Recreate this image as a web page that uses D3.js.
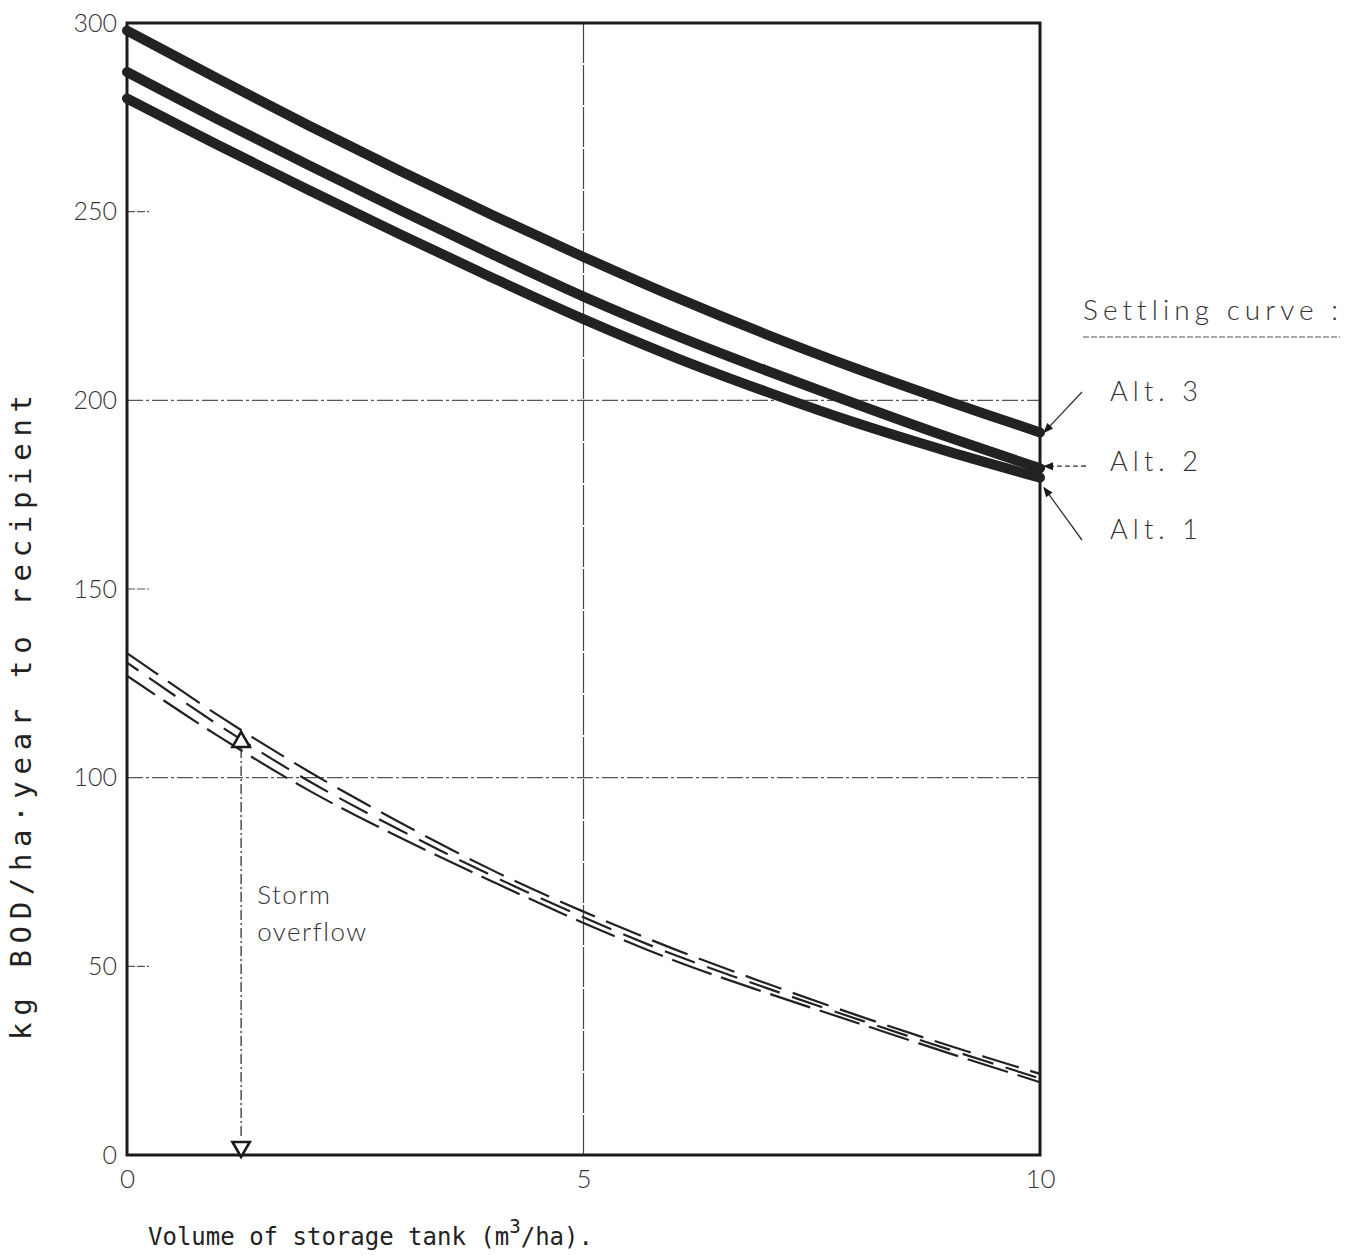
<!DOCTYPE html>
<html>
<head>
<meta charset="utf-8">
<script src="https://cdn.jsdelivr.net/npm/d3@7"></script>
<style>
  body { margin: 0; background: #fff; }
  svg { display: block; }
  text { font-variant-ligatures: none; }
</style>
</head>
<body>
<svg id="chart" width="1354" height="1259"></svg>
<script>
// ---- data ----
const volumes = [0, 1, 2, 3, 4, 5, 6, 7, 8, 9, 10];
const alt3 = [298, 285.2, 272.7, 260.7, 249.1, 238.0, 227.4, 217.5, 208.3, 199.7, 191.5];
const alt2 = [287, 274.4, 262.2, 250.3, 238.7, 227.5, 217.3, 207.9, 198.9, 190.2, 182.0];
const alt1 = [280, 267.6, 255.6, 243.9, 232.5, 221.5, 211.4, 202.3, 193.9, 186.4, 179.5];
const overflowA = [133, 116.5, 101.5, 88, 75.5, 64.5, 54.5, 45.5, 37, 29, 21.5];
const overflowB = [130.5, 114, 99, 86, 74, 63, 53, 44.3, 36, 28, 20.3];
const overflowC = [127, 111, 96.5, 84, 72.5, 61.5, 51.5, 43, 35, 27, 19.3];
const yTicks = [0, 50, 100, 150, 200, 250, 300];
const yGrid = [100, 200];
const yMinor = [50, 150, 250];
const xTicks = [0, 5, 10];
const xGrid = [5];
const legendTitle = "Settling curve :";
const legendLabels = ["Alt. 3", "Alt. 2", "Alt. 1"];
const legendEnds = [191.5, 182, 179.5];
const stormX = 1.25;
const stormTop = 110;
const stormLabel = ["Storm", "overflow"];
const yLabel = "kg BOD/ha\u00B7year to recipient";

// ---- layout ----
const svg = d3.select("#chart");
const x = d3.scaleLinear().domain([0, 10]).range([127, 1040]);
const y = d3.scaleLinear().domain([0, 300]).range([1155, 23]);
const ink = "#1a1a1a";
const tickFont = "Lato, 'Noto Sans', sans-serif";

// gridlines
svg.append("g").selectAll("line").data(yGrid).join("line")
  .attr("x1", x(0)).attr("x2", x(10))
  .attr("y1", d => y(d)).attr("y2", d => y(d))
  .attr("stroke", "#555").attr("stroke-width", 1.2)
  .attr("stroke-dasharray", "16,3,3,3");
svg.append("g").selectAll("line").data(xGrid).join("line")
  .attr("x1", d => x(d)).attr("x2", d => x(d))
  .attr("y1", y(0)).attr("y2", y(300))
  .attr("stroke", "#444").attr("stroke-width", 1.2)
  .attr("stroke-dasharray", "40,2");
svg.append("g").selectAll("line").data(yMinor).join("line")
  .attr("x1", x(0)).attr("x2", x(0) + 22)
  .attr("y1", d => y(d)).attr("y2", d => y(d))
  .attr("stroke", "#555").attr("stroke-width", 1.2)
  .attr("stroke-dasharray", "8,2");

// axes
const yAxis = d3.axisLeft(y).tickValues(yTicks).tickSize(0).tickPadding(10);
const gy = svg.append("g").attr("transform", `translate(${x(0)},0)`).call(yAxis);
gy.select(".domain").remove();
gy.selectAll("text").attr("font-family", tickFont).attr("font-weight", 300)
  .attr("font-size", 25).attr("fill", "#333");

const xAxis = d3.axisBottom(x).tickValues(xTicks).tickSize(0).tickPadding(15)
  .tickFormat(d3.format("d"));
const gx = svg.append("g").attr("transform", `translate(0,${y(0)})`).call(xAxis);
gx.select(".domain").remove();
gx.selectAll("text").attr("font-family", tickFont).attr("font-weight", 300)
  .attr("font-size", 26).attr("fill", "#333");

// frame
svg.append("rect")
  .attr("x", x(0)).attr("y", y(300))
  .attr("width", x(10) - x(0)).attr("height", y(0) - y(300))
  .attr("fill", "none").attr("stroke", ink).attr("stroke-width", 3);

// thick settling curves
const line = d3.line().x((d, i) => x(volumes[i])).y(d => y(d)).curve(d3.curveCatmullRom.alpha(0.5));
[alt3, alt2, alt1].forEach(s => {
  svg.append("path").attr("d", line(s))
    .attr("fill", "none").attr("stroke", "#222").attr("stroke-width", 10)
    .attr("stroke-linecap", "round");
});

// dashed storm overflow curves
const dashes = [["38,12", 0], ["32,13", 18], ["42,10", 8]];
[overflowA, overflowB, overflowC].forEach((s, i) => {
  svg.append("path").attr("d", line(s))
    .attr("fill", "none").attr("stroke", "#222").attr("stroke-width", 2.2)
    .attr("stroke-dasharray", dashes[i][0]).attr("stroke-dashoffset", dashes[i][1]);
});

// storm overflow vertical marker
const sx = x(stormX);
svg.append("line")
  .attr("x1", sx).attr("x2", sx)
  .attr("y1", y(stormTop) + 8).attr("y2", y(0) - 16)
  .attr("stroke", "#333").attr("stroke-width", 1.3)
  .attr("stroke-dasharray", "10,3,2,3");
const tri = d3.symbol().type(d3.symbolTriangle).size(130);
svg.append("path").attr("d", tri())
  .attr("transform", `translate(${sx},${y(stormTop) + 2})`)
  .attr("fill", "#fff").attr("stroke", ink).attr("stroke-width", 2.6);
svg.append("path").attr("d", tri())
  .attr("transform", `translate(${sx},${y(0) - 8}) rotate(180)`)
  .attr("fill", "#fff").attr("stroke", ink).attr("stroke-width", 2.6);
svg.append("g").selectAll("text").data(stormLabel).join("text")
  .attr("x", sx + 16).attr("y", (d, i) => 904 + i * 37)
  .attr("font-family", tickFont).attr("font-weight", 300)
  .attr("font-size", 26).attr("letter-spacing", 1.5).attr("fill", "#333").text(d => d);

// legend
svg.append("text").attr("x", 1083).attr("y", 320)
  .attr("font-family", tickFont).attr("font-weight", 300)
  .attr("font-size", 28).attr("fill", "#333")
  .attr("textLength", 255).attr("lengthAdjust", "spacing")
  .text(legendTitle);
svg.append("line").attr("x1", 1083).attr("x2", 1340)
  .attr("y1", 337).attr("y2", 337)
  .attr("stroke", "#555").attr("stroke-width", 1.2).attr("stroke-dasharray", "6,2");
const legY = [401, 471, 539];
svg.append("g").selectAll("text").data(legendLabels).join("text")
  .attr("x", 1110).attr("y", (d, i) => legY[i])
  .attr("font-family", tickFont).attr("font-weight", 300)
  .attr("font-size", 27).attr("fill", "#333")
  .attr("textLength", 88).attr("lengthAdjust", "spacing")
  .text(d => d);

svg.append("defs").append("marker")
  .attr("id", "ah").attr("viewBox", "0 0 10 10").attr("refX", 9).attr("refY", 5)
  .attr("markerWidth", 14).attr("markerHeight", 10).attr("markerUnits", "userSpaceOnUse")
  .attr("orient", "auto")
  .append("path").attr("d", "M0,1 L10,5 L0,9 Z").attr("fill", ink);

const arrowStarts = [[1082, 392], [1086, 466], [1082, 540]];
const arrowTargetsY = [y(legendEnds[0]), y(legendEnds[1]) - 2, y(legendEnds[2]) + 10];
arrowStarts.forEach((p, i) => {
  svg.append("line")
    .attr("x1", p[0]).attr("y1", p[1])
    .attr("x2", x(10) + 4).attr("y2", arrowTargetsY[i])
    .attr("stroke", "#333").attr("stroke-width", 1.3)
    .attr("stroke-dasharray", i === 1 ? "5,3" : null)
    .attr("marker-end", "url(#ah)");
});

// axis titles
svg.append("text")
  .attr("transform", `translate(31,${(395 + 1040) / 2}) rotate(-90)`)
  .attr("text-anchor", "middle")
  .attr("font-family", "'DejaVu Sans Mono', monospace")
  .attr("font-size", 29).attr("fill", "#222")
  .attr("textLength", 645).attr("lengthAdjust", "spacing")
  .text(yLabel);

const xl = svg.append("text").attr("x", 148).attr("y", 1245)
  .attr("font-family", "'DejaVu Sans Mono', monospace")
  .attr("font-size", 24).attr("fill", "#222");
xl.append("tspan").text("Volume of storage tank (m");
xl.append("tspan").attr("dy", -12).attr("font-size", 19).text("3");
xl.append("tspan").attr("dy", 12).text("/ha).");
</script>
</body>
</html>
